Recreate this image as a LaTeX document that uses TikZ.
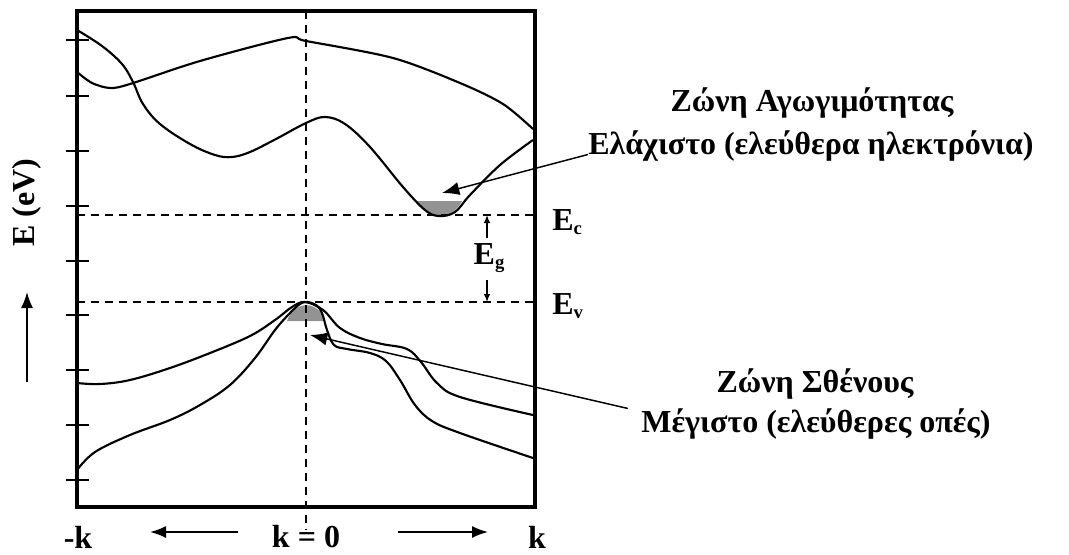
\documentclass[tikz,border=0pt]{standalone}
\usepackage{fontspec}
\setmainfont{Liberation Serif}
\usetikzlibrary{arrows.meta}

\newcommand{\lowsub}[1]{\raisebox{-0.25ex}{\fontsize{14}{14}\selectfont #1}}

\tikzset{
  band/.style={line width=1.6pt, line join=round},
  level/.style={line width=1.3pt, dash pattern=on 6pt off 4.5pt},
  ptr/.style={line width=1.1pt, -{Latex[length=13pt,width=10pt]}},
  axarrow/.style={line width=1.3pt, -{Latex[length=12pt,width=9pt]}},
  gaparrow/.style={line width=1.1pt, -{Latex[length=6pt,width=5pt]}},
  lbl/.style={font=\fontsize{24}{28}\selectfont\bfseries, inner sep=0pt},
}

\begin{document}
\begin{tikzpicture}[x=0.75pt, y=-0.75pt]
    \useasboundingbox (0,0) rectangle (1069,554);
    % Filled band edges
    \fill[gray!85] (416,201) .. controls (427,220) and (451,222) .. (462,201) -- cycle;
    \fill[gray!85] (287,321) .. controls (294,300) and (319,300) .. (325,321) -- cycle;
    % Frame and ticks
    \draw[line width=3pt] (77,11) rectangle (535,507);
    \foreach \y in {40,96,151,206,261,315,370,425,480}
        \draw[line width=2.2pt] (66,\y) -- (89,\y);
    % Levels
    \draw[level] (306,11) -- (306,530);
    \draw[level] (77,215) -- (535,215);
    \draw[level] (77,302) -- (535,302);
    % Conduction bands
    \draw[band] plot[smooth, tension=0.6] coordinates {(77,30) (102,46) (122,64) (133,82)
        (143,104) (160,124) (190,144) (215,155) (232,157) (250,152) (276,139) (306,123)
        (325,117) (345,124) (370,147) (403,187) (425,210) (439,216) (455,212) (470,195)
        (500,165) (533,140)};
    \draw[band] plot[smooth, tension=0.5] coordinates {(77,72) (92,83) (110,88) (130,84)
        (200,61) (288,38) (306,41) (393,58) (460,83) (503,104) (533,129)};
    % Valence bands
    \draw[band] plot[smooth, tension=0.6] coordinates {(77,383) (100,384) (130,380) (170,368)
        (210,353) (250,336) (275,320) (292,307) (305,302) (323,310) (340,328) (360,338)
        (382,344) (407,349) (421,362) (437,383) (460,397) (533,415)};
    \draw[band] plot[smooth, tension=0.6] coordinates {(77,470) (95,452) (130,435) (170,420)
        (200,405) (230,385) (255,358) (275,330) (290,313) (300,304) (307,302) (316,305)
        (322,313) (327,330) (334,345) (347,349) (370,353) (386,361) (400,380) (415,405)
        (432,421) (460,433) (533,458)};
    % Axis labels
    \node[lbl, rotate=90] (elabel) at (27,203) {E (eV)};
    \coordinate (up0) at (27,382);
    \coordinate (up1) at (27,292);
    \draw[axarrow] (up0) -- (up1);
    \node[lbl] (kmin) at (78,537) {-k};
    \node[lbl] (kzero) at (306,537) {k = 0};
    \node[lbl] (kmax) at (537,537) {k};
    \coordinate (la0) at (238,532);
    \coordinate (la1) at (150,532);
    \coordinate (ra0) at (398,532);
    \coordinate (ra1) at (488,532);
    \draw[axarrow] (la0) -- (la1);
    \draw[axarrow] (ra0) -- (ra1);
    % Energy gap
    \node[lbl, anchor=west] (ec) at (552,222) {E\lowsub{c}};
    \node[lbl, anchor=west] (ev) at (552,306) {E\lowsub{v}};
    \node[lbl] (eg) at (489,258) {E\lowsub{g}};
    \coordinate (ectop) at (487,215);
    \coordinate (evbot) at (487,302);
    \coordinate (egt) at (487,238);
    \coordinate (egb) at (487,280);
    \draw[gaparrow] (egt) -- (ectop);
    \draw[gaparrow] (egb) -- (evbot);
    % Band labels and pointers
    \node[lbl] (cband) at (812,103) {Ζώνη Αγωγιμότητας};
    \node[lbl] (cmintxt) at (811,146) {Ελάχιστο (ελεύθερα ηλεκτρόνια)};
    \node[lbl] (vband) at (815,384) {Ζώνη Σθένους};
    \node[lbl] (vmaxtxt) at (816,424) {Μέγιστο (ελεύθερες οπές)};
    \coordinate (cmin) at (442,193);
    \coordinate (vmax) at (310,335);
    \draw[ptr] (cmintxt.base west) -- (cmin);
    \draw[ptr] ([xshift=-10pt]vmaxtxt.north west) -- (vmax);
\end{tikzpicture}
\end{document}
